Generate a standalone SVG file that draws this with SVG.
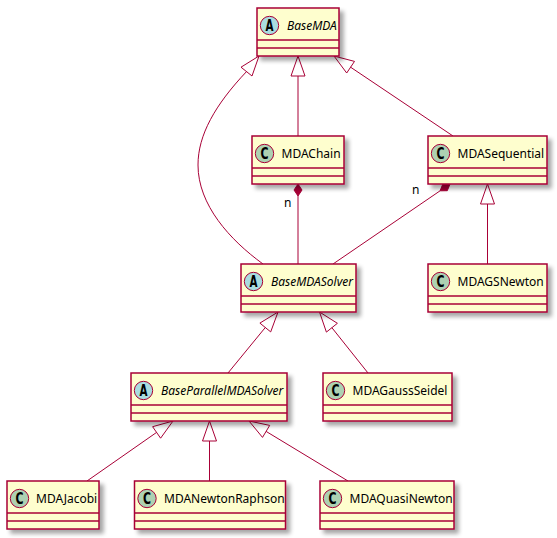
<svg xmlns="http://www.w3.org/2000/svg" width="557" height="538" viewBox="0 0 557 538">
<defs>
<filter id="sh" x="-20%" y="-20%" width="150%" height="160%">
<feGaussianBlur in="SourceAlpha" stdDeviation="2"/>
<feOffset dx="4" dy="4" result="o"/>
<feComponentTransfer><feFuncA type="linear" slope="0.35"/></feComponentTransfer>
<feMerge><feMergeNode/><feMergeNode in="SourceGraphic"/></feMerge>
</filter>
</defs>
<style>
.box{fill:#FEFECE;stroke:#A80036;stroke-width:1.5;filter:url(#sh)}
.sep{stroke:#A80036;stroke-width:1.5}
.cc{fill:#ADD1B2;stroke:#A80036;stroke-width:1}
.ca{fill:#A9DCDF;stroke:#A80036;stroke-width:1}
.lt{font-family:"DejaVu Sans",sans-serif;font-weight:bold;font-size:15px;fill:#000;text-anchor:middle}
.nm{font-family:"Noto Sans","Open Sans",sans-serif;font-size:12px;fill:#000}
.it{font-style:italic}
.e{fill:none;stroke:#A80036;stroke-width:1}
.tri{fill:none;stroke:#A80036;stroke-width:1}
.dia{fill:#A80036;stroke:#A80036;stroke-width:1}
.lb{font-family:"Noto Sans","Open Sans",sans-serif;font-size:12px;fill:#000}
</style>

<g id="edges">
<path class="e" d="M263,264 C230,240 198,205 198,165 C198,135 215,105 246.5,71.6"/>
<polygon class="tri" points="259,56 252,76 241,67.2"/>
<line class="e" x1="298" y1="76" x2="298" y2="136"/>
<polygon class="tri" points="298,56 291,76 305,76"/>
<line class="e" x1="350.6" y1="67.2" x2="453" y2="136"/>
<polygon class="tri" points="334,56 346.7,73 354.5,61.4"/>
<line class="e" x1="298" y1="196" x2="298" y2="264"/>
<polygon class="dia" points="298,184 294,190 298,196 302,190"/>
<text class="lb" x="284" y="207">n</text>
<line class="e" x1="440.1" y1="190.8" x2="333" y2="264"/>
<polygon class="dia" points="450,184 447.3,190.7 440.1,190.8 442.8,184.1"/>
<text class="lb" x="412" y="194">n</text>
<line class="e" x1="487.5" y1="204" x2="487.5" y2="264"/>
<polygon class="tri" points="487.5,184 480.5,204 494.5,204"/>
<line class="e" x1="265.3" y1="327.5" x2="228" y2="373"/>
<polygon class="tri" points="278,312 270.7,331.9 259.9,323.1"/>
<line class="e" x1="331.9" y1="327.7" x2="368" y2="373"/>
<polygon class="tri" points="319.5,312 326.4,332.1 337.4,323.3"/>
<line class="e" x1="156.6" y1="432.4" x2="87" y2="481"/>
<polygon class="tri" points="173,421 160.6,438.2 152.6,426.7"/>
<line class="e" x1="209.5" y1="441" x2="209.5" y2="481"/>
<polygon class="tri" points="209.5,421 202.5,441 216.5,441"/>
<line class="e" x1="266.1" y1="431.4" x2="348" y2="481"/>
<polygon class="tri" points="249,421 262.5,437.4 269.7,425.4"/>
</g>

<g id="BaseMDA">
<rect class="box" x="257" y="8" width="82" height="48"/>
<line class="sep" x1="257" y1="40" x2="339" y2="40"/><line class="sep" x1="257" y1="48" x2="339" y2="48"/>
<circle class="ca" cx="269.5" cy="25.5" r="9.2"/><text class="lt" x="269.5" y="31" textLength="8" lengthAdjust="spacingAndGlyphs">A</text>
<text class="nm it" x="287" y="29.5">BaseMDA</text>
</g>

<g id="MDAChain">
<rect class="box" x="252" y="136" width="92" height="48"/>
<line class="sep" x1="252" y1="168" x2="344" y2="168"/><line class="sep" x1="252" y1="176" x2="344" y2="176"/>
<circle class="cc" cx="264.5" cy="153.5" r="9.2"/><text class="lt" x="264.5" y="159" textLength="8" lengthAdjust="spacingAndGlyphs">C</text>
<text class="nm" x="281.5" y="157.5">MDAChain</text>
</g>

<g id="MDASequential">
<rect class="box" x="428" y="136" width="119" height="48"/>
<line class="sep" x1="428" y1="168" x2="547" y2="168"/><line class="sep" x1="428" y1="176" x2="547" y2="176"/>
<circle class="cc" cx="440.5" cy="153.5" r="9.2"/><text class="lt" x="440.5" y="159" textLength="8" lengthAdjust="spacingAndGlyphs">C</text>
<text class="nm" x="457.5" y="157.5">MDASequential</text>
</g>

<g id="BaseMDASolver">
<rect class="box" x="241" y="264" width="115" height="48"/>
<line class="sep" x1="241" y1="296" x2="356" y2="296"/><line class="sep" x1="241" y1="304" x2="356" y2="304"/>
<circle class="ca" cx="253.5" cy="281.5" r="9.2"/><text class="lt" x="253.5" y="287" textLength="8" lengthAdjust="spacingAndGlyphs">A</text>
<text class="nm it" x="271" y="285.5">BaseMDASolver</text>
</g>

<g id="MDAGSNewton">
<rect class="box" x="428" y="264" width="119" height="48"/>
<line class="sep" x1="428" y1="296" x2="547" y2="296"/><line class="sep" x1="428" y1="304" x2="547" y2="304"/>
<circle class="cc" cx="440.5" cy="281.5" r="9.2"/><text class="lt" x="440.5" y="287" textLength="8" lengthAdjust="spacingAndGlyphs">C</text>
<text class="nm" x="457.5" y="285.5">MDAGSNewton</text>
</g>

<g id="BaseParallelMDASolver">
<rect class="box" x="131" y="373" width="156" height="48"/>
<line class="sep" x1="131" y1="405" x2="287" y2="405"/><line class="sep" x1="131" y1="413" x2="287" y2="413"/>
<circle class="ca" cx="143.5" cy="390.5" r="9.2"/><text class="lt" x="143.5" y="396" textLength="8" lengthAdjust="spacingAndGlyphs">A</text>
<text class="nm it" x="161" y="394.5">BaseParallelMDASolver</text>
</g>

<g id="MDAGaussSeidel">
<rect class="box" x="323" y="373" width="129" height="48"/>
<line class="sep" x1="323" y1="405" x2="452" y2="405"/><line class="sep" x1="323" y1="413" x2="452" y2="413"/>
<circle class="cc" cx="335.5" cy="390.5" r="9.2"/><text class="lt" x="335.5" y="396" textLength="8" lengthAdjust="spacingAndGlyphs">C</text>
<text class="nm" x="352.5" y="394.5">MDAGaussSeidel</text>
</g>

<g id="MDAJacobi">
<rect class="box" x="7" y="481" width="92" height="48"/>
<line class="sep" x1="7" y1="513" x2="99" y2="513"/><line class="sep" x1="7" y1="521" x2="99" y2="521"/>
<circle class="cc" cx="19.5" cy="498.5" r="9.2"/><text class="lt" x="19.5" y="504" textLength="8" lengthAdjust="spacingAndGlyphs">C</text>
<text class="nm" x="36" y="502.5">MDAJacobi</text>
</g>

<g id="MDANewtonRaphson">
<rect class="box" x="134.5" y="481" width="151" height="48"/>
<line class="sep" x1="134.5" y1="513" x2="285.5" y2="513"/><line class="sep" x1="134.5" y1="521" x2="285.5" y2="521"/>
<circle class="cc" cx="147" cy="498.5" r="9.2"/><text class="lt" x="147" y="504" textLength="8" lengthAdjust="spacingAndGlyphs">C</text>
<text class="nm" x="164" y="502.5">MDANewtonRaphson</text>
</g>

<g id="MDAQuasiNewton">
<rect class="box" x="320" y="481" width="134" height="48"/>
<line class="sep" x1="320" y1="513" x2="454" y2="513"/><line class="sep" x1="320" y1="521" x2="454" y2="521"/>
<circle class="cc" cx="332.5" cy="498.5" r="9.2"/><text class="lt" x="332.5" y="504" textLength="8" lengthAdjust="spacingAndGlyphs">C</text>
<text class="nm" x="349.5" y="502.5">MDAQuasiNewton</text>
</g>
</svg>
